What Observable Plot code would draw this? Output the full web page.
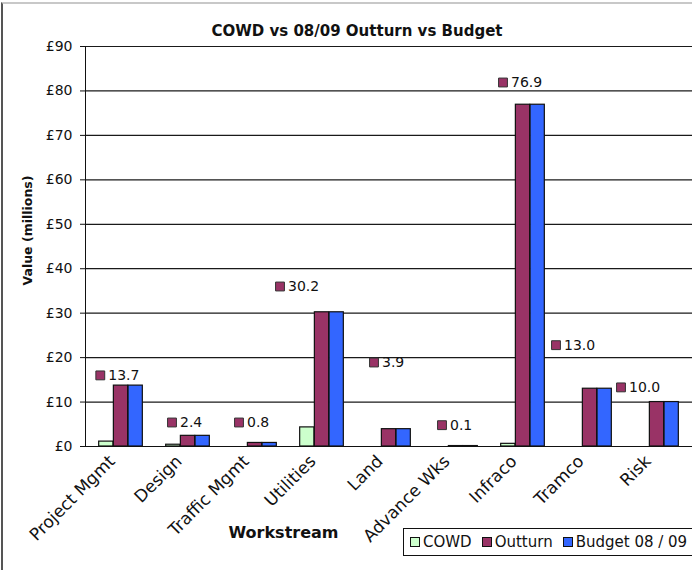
<!DOCTYPE html>
<html>
<head>
<meta charset="utf-8">
<script src="https://cdn.jsdelivr.net/npm/d3@7"></script>
<script src="https://cdn.jsdelivr.net/npm/@observablehq/plot@0.6"></script>
<style>
  body { margin: 0; background: #fff; }
  #wrap { position: relative; width: 692px; height: 570px; overflow: hidden; background: #fff; font-family: "DejaVu Sans", sans-serif; color: #111; }
  #frame { position: absolute; left: 1px; top: 2px; width: 720px; height: 600px; border-left: 2px solid #555; border-top: 2px solid #c8c8c8; pointer-events: none; }
  #title { position: absolute; left: 0; width: 714px; top: 22px; text-align: center; font-weight: bold; font-size: 15px; line-height: 18px; }
  #legend { position: absolute; left: 403px; top: 528px; width: 320px; height: 28px; border: 1px solid #111; box-sizing: border-box; font-size: 15px; line-height: 26px; white-space: nowrap; padding-left: 6px; }
  #legend span.key { display: inline-block; width: 8px; height: 8px; border: 1px solid #111; margin-right: 3px; vertical-align: 0px; }
  #legend span.item { margin-right: 10px; }
  #chart { position: absolute; left: 0; top: 0; }
</style>
</head>
<body>
<div id="wrap">
  <div id="chart"></div>
  <div id="frame"></div>
  <div id="title">COWD vs 08/09 Outturn vs Budget</div>
  <div id="legend"></div>
</div>
<script>
// ---- data ----
const categories = ["Project Mgmt", "Design", "Traffic Mgmt", "Utilities", "Land", "Advance Wks", "Infraco", "Tramco", "Risk"];
const seriesNames = ["COWD", "Outturn", "Budget 08 / 09"];
const cowd    = [1.1, 0.4, 0.0, 4.3, 0.0, 0.0, 0.6, 0.0, 0.0];
const outturn = [13.7, 2.4, 0.8, 30.2, 3.9, 0.1, 76.9, 13.0, 10.0];
const budget  = [13.7, 2.4, 0.8, 30.2, 3.9, 0.1, 76.9, 13.0, 10.0];
const yTicks  = [0, 10, 20, 30, 40, 50, 60, 70, 80, 90];
const yTickLabels = ["£0", "£10", "£20", "£30", "£40", "£50", "£60", "£70", "£80", "£90"];
const titleText = "COWD vs 08/09 Outturn vs Budget";
const xTitle = "Workstream";
const yTitle = "Value (millions)";

// ---- styling / layout ----
const colors = ["#CCFFCC", "#993366", "#3366FF"];
const W = 692, H = 570, mL = 85, mR = 0, mT = 46, mB = 124;
const bandW = (W - mL - mR) / categories.length;
const barW = 14.7;
const inset = (bandW - barW) / 2;
// manual data-label placement (label level in £m, key offset in px from band centre)
const labelLevel = [16.0, 5.4, 5.4, 36.0, 18.9, 4.8, 81.9, 22.8, 13.3];
const labelDx    = [-20.7, -16, -16, -42, -15, -14, -20, -34, -36];

document.getElementById("title").textContent = titleText;

const rows = categories.map((c, i) => ({category: c, cowd: cowd[i], outturn: outturn[i], budget: budget[i]}));

const marks = [
  Plot.ruleY(yTicks, {stroke: "#1a1a1a", strokeWidth: 1.2}),
  Plot.barY(rows, {x: "category", y: "cowd", fill: colors[0], stroke: "#111", strokeWidth: 1.2, insetLeft: inset, insetRight: inset, dx: -barW}),
  Plot.barY(rows, {x: "category", y: "outturn", fill: colors[1], stroke: "#111", strokeWidth: 1.2, insetLeft: inset, insetRight: inset}),
  Plot.barY(rows, {x: "category", y: "budget", fill: colors[2], stroke: "#111", strokeWidth: 1.2, insetLeft: inset, insetRight: inset, dx: barW}),
  Plot.frame({anchor: "left", stroke: "#111"}),
  Plot.ruleY([0], {stroke: "#111"}),
  Plot.axisY({ticks: yTicks, tickFormat: (d) => yTickLabels[yTicks.indexOf(d)], tickSize: 5, tickPadding: 8, fontSize: 14, label: null, fill: "#111"}),
  Plot.axisX({tickRotate: -45, tickSize: 0, tickPadding: 8, fontSize: 17, label: null, fill: "#111", dx: -9, dy: 4}),
  Plot.text([xTitle], {frameAnchor: "bottom-left", dx: 283 - mL, dy: 91, fontSize: 16, fontWeight: "bold", textAnchor: "middle", fill: "#111"}),
  Plot.text([yTitle], {frameAnchor: "left", dx: 27 - mL, dy: 230 - (mT + (H - mT - mB) / 2), rotate: -90, fontSize: 12.5, fontWeight: "bold", textAnchor: "middle", fill: "#111"})
];

categories.forEach((c, i) => {
  marks.push(Plot.dot([i], {x: () => c, y: () => labelLevel[i], symbol: "square", r: 5, fill: colors[1], stroke: "#333", strokeWidth: 1, dx: labelDx[i]}));
  marks.push(Plot.text([i], {x: () => c, y: () => labelLevel[i], text: () => outturn[i].toFixed(1), dx: labelDx[i] + 8, textAnchor: "start", fontSize: 14, fill: "#111"}));
});

const chart = Plot.plot({
  width: W, height: H,
  marginLeft: mL, marginRight: mR, marginTop: mT, marginBottom: mB,
  style: {fontFamily: "DejaVu Sans", background: "transparent", color: "#111"},
  x: {domain: categories, padding: 0},
  y: {domain: [0, 90]},
  marks
});
document.getElementById("chart").appendChild(chart);

const legend = document.getElementById("legend");
seriesNames.forEach((s, i) => {
  const item = document.createElement("span");
  item.className = "item";
  const key = document.createElement("span");
  key.className = "key";
  key.style.background = colors[i];
  item.appendChild(key);
  item.appendChild(document.createTextNode(s));
  legend.appendChild(item);
});
</script>
</body>
</html>
